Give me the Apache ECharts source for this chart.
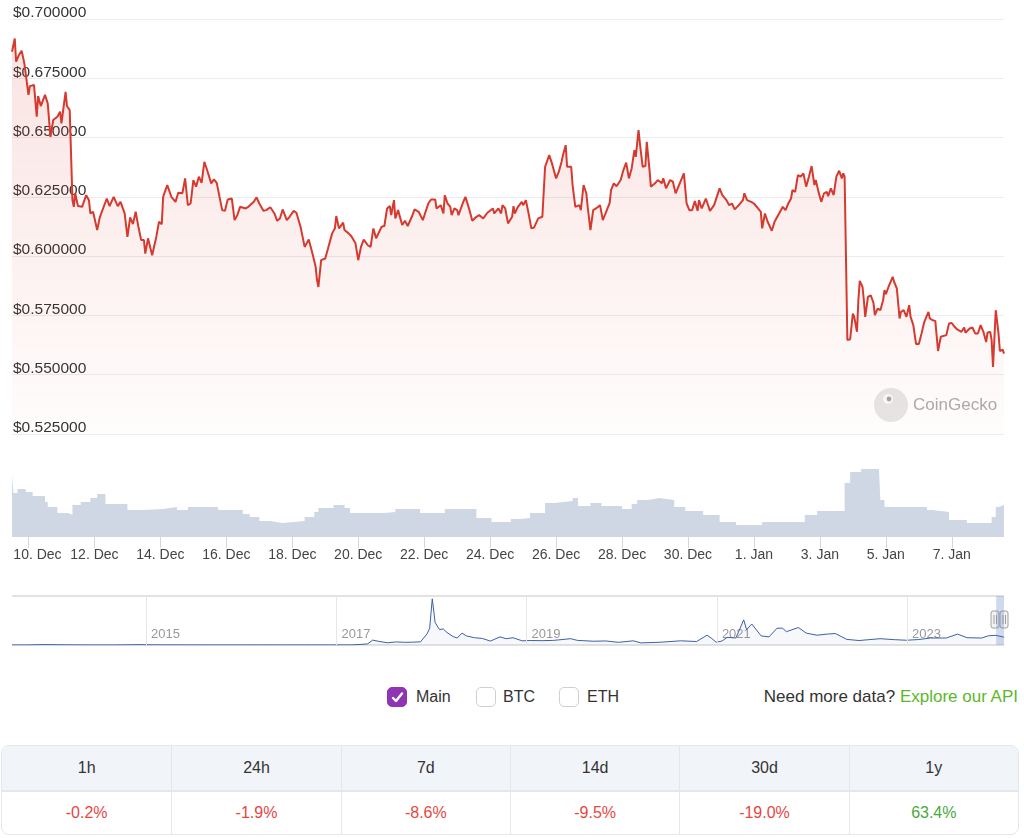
<!DOCTYPE html>
<html>
<head>
<meta charset="utf-8">
<title>XRP price</title>
<script src="https://cdn.jsdelivr.net/npm/echarts@6/dist/echarts.min.js"></script>
<style>
  html, body { margin: 0; padding: 0; background: #fff; }
  body {
    width: 1024px; height: 838px; position: relative; overflow: hidden;
    font-family: 'Liberation Sans', Arial, sans-serif; color: #333;
  }
  #chart { position: absolute; left: 0; top: 0; width: 1024px; height: 660px; }
  .opt { position: absolute; top: 687px; height: 20px; line-height: 20px; font-size: 16px; color: #333; }
  .box {
    position: absolute; top: 0; width: 18px; height: 18px; border-radius: 5px;
    border: 1px solid #d0d0d0; background: #fff;
  }
  .box.on { background: #8f35b3; border-color: #8f35b3; }
  .box svg { position: absolute; left: 3px; top: 3px; }
  .more { position: absolute; top: 687px; right: 6px; height: 20px; line-height: 20px; font-size: 17px; color: #333; }
  .more span { color: #5cb82a; }
  #changes {
    position: absolute; left: 1px; top: 745px; width: 1018px;
    border: 1px solid #e3e6eb; border-radius: 8px; border-spacing: 0;
    overflow: hidden; table-layout: fixed;
  }
  #changes td, #changes th { padding: 0; text-align: center; font-size: 16px; border-left: 1px solid #e3e6eb; }
  #changes tr > *:first-child { border-left: none; }
  #changes th { height: 44px; background: #f1f4f8; font-weight: normal; color: #333; border-bottom: 2px solid #e3e6eb; }
  #changes td { height: 42px; }
</style>
</head>
<body>
<div id="chart"></div>

<div class="opt" style="left:387px"><span class="box on" style="left:0"><svg width="13" height="13" viewBox="0 0 13 13"><path d="M2 7 L5 10 L11 2.5" stroke="#fff" stroke-width="2.4" fill="none" stroke-linecap="round" stroke-linejoin="round"/></svg></span><span style="position:absolute;left:29px">Main</span></div>
<div class="opt" style="left:476px"><span class="box" style="left:0"></span><span style="position:absolute;left:27px">BTC</span></div>
<div class="opt" style="left:559px"><span class="box" style="left:0"></span><span style="position:absolute;left:28px">ETH</span></div>
<div class="more">Need more data? <span>Explore our API</span></div>

<table id="changes"><thead><tr id="changeHead"></tr></thead><tbody><tr id="changeBody"></tr></tbody></table>

<script>
// hours are counted from 10 Dec 2023 00:00
const pricePoints = [
  [-12,0.6862],[-10,0.6918],[-9,0.6820],[-7,0.6848],[-5,0.6866],[-3,0.6813],[-2,0.6813],[0,0.6680],[1,0.6717],[4,0.6722],
  [6,0.6588],[7,0.6675],[9,0.6633],[12,0.6680],[14,0.6644],[16,0.6503],[18,0.6574],[21,0.6588],[23,0.6609],[24,0.6560],
  [27,0.6693],[28,0.6633],[30,0.6616],[32,0.6236],[33,0.6208],[34,0.6265],[36,0.6211],[39,0.6208],[42,0.6257],[44,0.6236],
  [45,0.6180],[47,0.6187],[50,0.6110],[52,0.6166],[57,0.6243],[59,0.6211],[62,0.6250],[65,0.6211],[67,0.6229],[70,0.6180],
  [72,0.6081],[74,0.6163],[76,0.6135],[78,0.6187],[80,0.6124],[82,0.6068],[84,0.6068],[85,0.6011],[87,0.6075],[90,0.6004],
  [93,0.6081],[95,0.6145],[97,0.6135],[98,0.6250],[101,0.6300],[104,0.6250],[107,0.6229],[109,0.6267],[112,0.6265],[114,0.6328],
  [116,0.6215],[118,0.6222],[120,0.6321],[122,0.6293],[124,0.6335],[126,0.6309],[128,0.6398],[130,0.6363],[133,0.6307],[135,0.6324],
  [137,0.6309],[141,0.6194],[143,0.6191],[145,0.6239],[148,0.6243],[150,0.6152],[152,0.6173],[154,0.6208],[158,0.6201],[160,0.6208],
  [164,0.6229],[166,0.6248],[168,0.6222],[171,0.6191],[173,0.6194],[176,0.6206],[179,0.6180],[181,0.6149],[183,0.6159],[185,0.6197],
  [188,0.6152],[190,0.6166],[193,0.6191],[195,0.6183],[198,0.6124],[199,0.6096],[201,0.6039],[204,0.6070],[207,0.6004],[209,0.5955],
  [210,0.5899],[211,0.5870],[213,0.5983],[216,0.5990],[218,0.6032],[221,0.6096],[223,0.6117],[224,0.6169],[226,0.6117],[229,0.6141],
  [230,0.6110],[233,0.6096],[235,0.6084],[238,0.6054],[240,0.5983],[242,0.6039],[244,0.6070],[247,0.6046],[249,0.6039],[251,0.6117],
  [253,0.6075],[257,0.6124],[259,0.6127],[261,0.6201],[263,0.6211],[264,0.6173],[266,0.6236],[267,0.6159],[269,0.6194],[272,0.6131],
  [274,0.6149],[276,0.6127],[279,0.6166],[281,0.6197],[284,0.6187],[287,0.6152],[291,0.6222],[293,0.6239],[296,0.6239],[297,0.6201],
  [300,0.6215],[302,0.6180],[303,0.6257],[305,0.6222],[307,0.6208],[308,0.6173],[310,0.6201],[312,0.6194],[313,0.6173],[315,0.6206],
  [316,0.6222],[318,0.6250],[321,0.6194],[323,0.6149],[326,0.6166],[328,0.6173],[331,0.6159],[334,0.6183],[338,0.6201],[339,0.6180],
  [342,0.6201],[344,0.6180],[345,0.6215],[347,0.6201],[349,0.6138],[352,0.6166],[353,0.6211],[354,0.6180],[356,0.6206],[359,0.6229],
  [360,0.6215],[362,0.6236],[364,0.6180],[366,0.6117],[368,0.6121],[371,0.6159],[374,0.6166],[376,0.6377],[377,0.6384],[379,0.6426],
  [381,0.6391],[382,0.6398],[384,0.6328],[386,0.6356],[388,0.6398],[389,0.6426],[391,0.6468],[392,0.6377],[395,0.6377],[396,0.6300],
  [398,0.6208],[401,0.6215],[402,0.6194],[404,0.6300],[406,0.6265],[407,0.6208],[409,0.6110],[411,0.6194],[413,0.6201],[416,0.6215],
  [418,0.6152],[420,0.6180],[423,0.6225],[424,0.6278],[426,0.6307],[428,0.6295],[431,0.6321],[433,0.6363],[435,0.6394],[437,0.6328],
  [439,0.6370],[441,0.6447],[442,0.6419],[444,0.6532],[445,0.6476],[447,0.6377],[449,0.6380],[450,0.6482],[452,0.6363],[453,0.6293],
  [456,0.6307],[458,0.6321],[461,0.6307],[462,0.6328],[464,0.6286],[467,0.6321],[469,0.6314],[471,0.6265],[474,0.6307],[477,0.6349],
  [479,0.6222],[481,0.6194],[483,0.6194],[485,0.6232],[487,0.6191],[488,0.6236],[490,0.6201],[493,0.6243],[496,0.6191],[499,0.6215],
  [503,0.6286],[505,0.6257],[508,0.6236],[510,0.6215],[512,0.6222],[514,0.6197],[517,0.6215],[520,0.6236],[521,0.6265],[523,0.6236],
  [526,0.6229],[528,0.6222],[531,0.6201],[533,0.6187],[534,0.6117],[536,0.6180],[538,0.6145],[541,0.6107],[543,0.6145],[547,0.6187],
  [549,0.6208],[551,0.6194],[553,0.6222],[555,0.6243],[556,0.6278],[558,0.6271],[560,0.6342],[562,0.6335],[564,0.6349],[566,0.6293],
  [568,0.6335],[570,0.6380],[572,0.6300],[573,0.6321],[575,0.6271],[577,0.6229],[579,0.6265],[581,0.6271],[582,0.6253],[584,0.6286],
  [586,0.6257],[588,0.6335],[590,0.6360],[592,0.6328],[593,0.6349],[594,0.6335],[596,0.5646],[598,0.5649],[600,0.5758],[601,0.5744],
  [603,0.5681],[604,0.5814],[605,0.5896],[607,0.5871],[608,0.5814],[609,0.5744],[611,0.5828],[613,0.5835],[615,0.5803],[616,0.5751],
  [618,0.5779],[620,0.5772],[622,0.5814],[623,0.5857],[624,0.5840],[626,0.5871],[629,0.5913],[630,0.5892],[632,0.5864],[634,0.5737],
  [635,0.5765],[637,0.5772],[639,0.5744],[641,0.5793],[642,0.5744],[644,0.5709],[645,0.5702],[646,0.5629],[648,0.5629],[650,0.5674],
  [652,0.5723],[655,0.5765],[656,0.5737],[658,0.5730],[660,0.5727],[662,0.5600],[664,0.5660],[665,0.5667],[668,0.5667],[670,0.5716],
  [672,0.5718],[674,0.5702],[676,0.5691],[679,0.5681],[681,0.5699],[682,0.5677],[685,0.5695],[687,0.5699],[689,0.5674],[691,0.5674],
  [693,0.5709],[695,0.5681],[697,0.5638],[698,0.5677],[700,0.5681],[701,0.5646],[702,0.5533],[703,0.5526],[704,0.5772],[706,0.5674],
  [707,0.5600],[709,0.5606],[710,0.5589]
];

// 24h volume, millions USD (same hour offsets)
const volumePoints = [
  [-12,2480],[-11,1760],[-8,1920],[-2,1800],[3,1640],[12,1400],[14,1200],[21,960],[29,880],[32,1280],
  [38,1400],[45,1560],[50,1720],[56,1320],[72,1080],[83,1120],[98,1200],[108,1080],[116,1200],[138,1080],
  [156,920],[161,800],[168,640],[176,560],[185,640],[201,800],[208,1000],[211,1160],[222,1280],[230,1160],
  [234,960],[259,1000],[267,1120],[285,960],[303,1120],[326,760],[337,600],[351,720],[358,760],[365,960],
  [376,1360],[383,1440],[396,1560],[400,1240],[409,1360],[417,1240],[432,1120],[439,1320],[443,1480],[451,1560],
  [459,1480],[470,1200],[478,1040],[491,880],[503,600],[515,480],[534,600],[565,880],[574,1040],[594,2160],
  [598,2600],[606,2720],[619,2680],[620,1480],[623,1200],[654,1080],[658,1000],[670,680],[683,560],[701,800],
  [704,1200],[706,1280],[710,1280]
];

// full price history for the navigator
const historyPoints = [
  ['2013-08-04',0.006],['2013-10-01',0.005],['2013-12-01',0.03],['2014-01-01',0.025],['2014-03-01',0.015],
  ['2014-06-01',0.006],['2014-09-01',0.005],['2014-12-01',0.025],['2015-03-01',0.011],['2015-06-01',0.01],
  ['2015-09-01',0.007],['2015-12-01',0.006],['2016-03-01',0.008],['2016-06-01',0.006],['2016-09-01',0.0065],
  ['2016-12-01',0.006],['2017-03-01',0.01],['2017-04-01',0.04],['2017-05-01',0.08],['2017-05-20',0.35],
  ['2017-06-10',0.27],['2017-07-15',0.16],['2017-08-20',0.22],['2017-09-20',0.19],['2017-10-20',0.2],
  ['2017-11-20',0.23],['2017-12-15',0.8],['2017-12-25',1.2],['2018-01-04',3.3],['2018-01-15',1.6],
  ['2018-02-01',1.1],['2018-02-15',1.15],['2018-03-01',0.9],['2018-03-25',0.6],['2018-04-10',0.5],
  ['2018-04-28',0.85],['2018-05-15',0.65],['2018-06-15',0.52],['2018-07-15',0.47],['2018-08-15',0.28],
  ['2018-09-21',0.58],['2018-10-15',0.45],['2018-11-10',0.52],['2018-12-15',0.3],['2019-01-15',0.32],
  ['2019-03-01',0.31],['2019-04-15',0.33],['2019-06-20',0.45],['2019-07-15',0.33],['2019-09-15',0.27],
  ['2019-11-01',0.29],['2019-12-20',0.19],['2020-02-15',0.3],['2020-03-15',0.15],['2020-06-01',0.2],
  ['2020-08-15',0.3],['2020-10-15',0.25],['2020-11-24',0.7],['2020-12-10',0.5],['2020-12-29',0.2],
  ['2021-01-20',0.28],['2021-02-10',0.55],['2021-03-15',0.5],['2021-04-14',1.8],['2021-04-25',1.1],
  ['2021-05-15',1.5],['2021-06-20',0.65],['2021-07-20',0.58],['2021-08-20',1.2],['2021-09-10',1.2],
  ['2021-09-25',0.95],['2021-11-10',1.25],['2021-12-10',0.85],['2022-01-20',0.7],['2022-03-01',0.78],
  ['2022-04-01',0.82],['2022-05-15',0.4],['2022-07-01',0.32],['2022-09-20',0.45],['2022-11-15',0.38],
  ['2022-12-30',0.34],['2023-02-15',0.39],['2023-04-01',0.5],['2023-06-01',0.5],['2023-07-14',0.78],
  ['2023-08-20',0.52],['2023-10-15',0.5],['2023-11-10',0.66],['2023-12-09',0.69],['2024-01-08',0.56]
];

const dayTicks = ['2023-12-10','2023-12-12','2023-12-14','2023-12-16','2023-12-18','2023-12-20','2023-12-22',
  '2023-12-24','2023-12-26','2023-12-28','2023-12-30','2024-01-01','2024-01-03','2024-01-05','2024-01-07'];
const yearTicks = ['2015-01-01','2017-01-01','2019-01-01','2021-01-01','2023-01-01'];
const months = ['Jan','Feb','Mar','Apr','May','Jun','Jul','Aug','Sep','Oct','Nov','Dec'];

const periods = ['1h', '24h', '7d', '14d', '30d', '1y'];
const changes = [-0.2, -1.9, -8.6, -9.5, -19.0, 63.4];

const FONT = "'Liberation Sans', Arial, sans-serif";
const HOUR = 3600 * 1000;

function localDay(s) {
  const p = s.split('-').map(Number);
  return new Date(p[0], p[1] - 1, p[2]).getTime();
}
const DAY0 = localDay('2023-12-10');
const atHour = h => DAY0 + h * HOUR;

const priceData = pricePoints.map(d => [atHour(d[0]), d[1]]);
const volumeData = volumePoints.map(d => [atHour(d[0]), d[1]]);
const historyData = historyPoints.map(d => [localDay(d[0]), d[1]]);
const tMin = priceData[0][0];
const tMax = priceData[priceData.length - 1][0];
const dayTickTimes = dayTicks.map(localDay);
const yearTickTimes = yearTicks.map(localDay);

// change table
document.getElementById('changeHead').innerHTML = periods.map(p => '<th>' + p + '</th>').join('');
document.getElementById('changeBody').innerHTML = changes.map(v =>
  '<td style="color:' + (v < 0 ? '#e5473f' : '#4aa93d') + '">' + v.toFixed(1) + '%</td>').join('');

const chart = echarts.init(document.getElementById('chart'));

// x axes are value axes holding timestamps, so that tick positions can be given explicitly
chart.setOption({
  animation: false,
  textStyle: { fontFamily: FONT },
  grid: [
    { left: 12, right: 20, top: 19, height: 415 },
    { left: 12, right: 20, top: 465, height: 72 },
    { left: 12, right: 20, top: 596, height: 49 }
  ],
  xAxis: [
    { type: 'value', gridIndex: 0, min: tMin, max: tMax, show: false },
    {
      type: 'value', gridIndex: 1, min: tMin, max: tMax,
      axisLine: { show: false },
      splitLine: { show: false },
      axisTick: {
        show: true, length: 11, customValues: dayTickTimes,
        lineStyle: { color: '#d6d6d6' }
      },
      axisLabel: {
        customValues: dayTickTimes,
        margin: 11, fontSize: 14, color: '#444', hideOverlap: false,
        showMinLabel: true, showMaxLabel: true,
        formatter: val => {
          const d = new Date(val);
          const txt = d.getDate() + '. ' + months[d.getMonth()];
          return val === dayTickTimes[0] ? '{first|' + txt + '}' : txt;
        },
        rich: { first: { fontSize: 14, color: '#444', padding: [0, 0, 0, 18] } }
      }
    },
    {
      type: 'value', gridIndex: 2, min: historyData[0][0], max: tMax,
      axisLine: { show: false },
      axisTick: { show: false },
      splitLine: { show: false },
      axisLabel: {
        inside: true, customValues: yearTickTimes,
        align: 'left', margin: 4, padding: [0, 0, 0, 5],
        fontSize: 13, color: '#999',
        formatter: val => String(new Date(val).getFullYear())
      }
    }
  ],
  yAxis: [
    {
      type: 'value', gridIndex: 0, min: 0.525, max: 0.7, interval: 0.025,
      axisLine: { show: false }, axisTick: { show: false },
      axisLabel: {
        inside: true, margin: 0, verticalAlign: 'bottom', lineHeight: 12,
        fontSize: 15.5, color: '#333', padding: [0, 0, 0, 1],
        formatter: v => '$' + v.toFixed(6)
      },
      splitLine: { lineStyle: { color: '#ececec' } }
    },
    { type: 'value', gridIndex: 1, min: 0, max: 2880, show: false },
    {
      type: 'value', gridIndex: 2, min: 0, max: 3.5, interval: 3.5,
      axisLine: { show: false }, axisTick: { show: false }, axisLabel: { show: false },
      splitLine: { lineStyle: { color: '#d9d9d9', width: 1.5 } }
    }
  ],
  series: [
    {
      name: 'Price', type: 'line', xAxisIndex: 0, yAxisIndex: 0,
      data: priceData, showSymbol: false,
      lineStyle: { color: '#d63a2f', width: 2 },
      areaStyle: {
        origin: 'start',
        color: new echarts.graphic.LinearGradient(0, 0, 0, 1, [
          { offset: 0, color: 'rgba(214,58,47,0.20)' },
          { offset: 1, color: 'rgba(214,58,47,0.02)' }
        ])
      }
    },
    {
      name: 'Volume', type: 'line', step: 'end', xAxisIndex: 1, yAxisIndex: 1,
      data: volumeData, showSymbol: false,
      lineStyle: { width: 0 },
      areaStyle: { color: '#cfd6e4', opacity: 1 }
    },
    {
      name: 'History', type: 'line', xAxisIndex: 2, yAxisIndex: 2,
      data: historyData, showSymbol: false,
      lineStyle: { color: '#3d5fa8', width: 1 },
      areaStyle: { color: 'rgba(102,133,194,0.08)' },
      markLine: {
        silent: true, symbol: 'none', label: { show: false },
        lineStyle: { color: '#e6e6e6', width: 1, type: 'solid' },
        data: yearTickTimes.map(t => ({ xAxis: t }))
      },
      markArea: {
        silent: true,
        itemStyle: { color: 'rgba(102,133,194,0.3)' },
        data: [[{ xAxis: tMin }, { xAxis: tMax }]]
      }
    }
  ],
  graphic: [
    // CoinGecko watermark
    { type: 'circle', shape: { cx: 891, cy: 405, r: 17 }, style: { fill: '#e6e6e6' }, silent: true },
    { type: 'circle', shape: { cx: 888, cy: 399, r: 5 }, style: { fill: '#fafafa' }, silent: true },
    { type: 'circle', shape: { cx: 889, cy: 399, r: 2.4 }, style: { fill: '#a5a5a5' }, silent: true },
    {
      type: 'text', x: 913, y: 405, silent: true,
      style: { text: 'CoinGecko', font: '17px ' + FONT, fill: '#ababab', verticalAlign: 'middle' }
    },
    // navigator handles
    { type: 'rect', shape: { x: 991, y: 611, width: 8, height: 17, r: 2 }, style: { fill: '#f2f2f2', stroke: '#a0a0a0', lineWidth: 1 } },
    { type: 'rect', shape: { x: 1000, y: 611, width: 8, height: 17, r: 2 }, style: { fill: '#f2f2f2', stroke: '#a0a0a0', lineWidth: 1 } },
    { type: 'line', shape: { x1: 994, y1: 615, x2: 994, y2: 624 }, style: { stroke: '#a0a0a0' } },
    { type: 'line', shape: { x1: 996.5, y1: 615, x2: 996.5, y2: 624 }, style: { stroke: '#a0a0a0' } },
    { type: 'line', shape: { x1: 1003, y1: 615, x2: 1003, y2: 624 }, style: { stroke: '#a0a0a0' } },
    { type: 'line', shape: { x1: 1005.5, y1: 615, x2: 1005.5, y2: 624 }, style: { stroke: '#a0a0a0' } }
  ]
});
</script>
</body>
</html>
